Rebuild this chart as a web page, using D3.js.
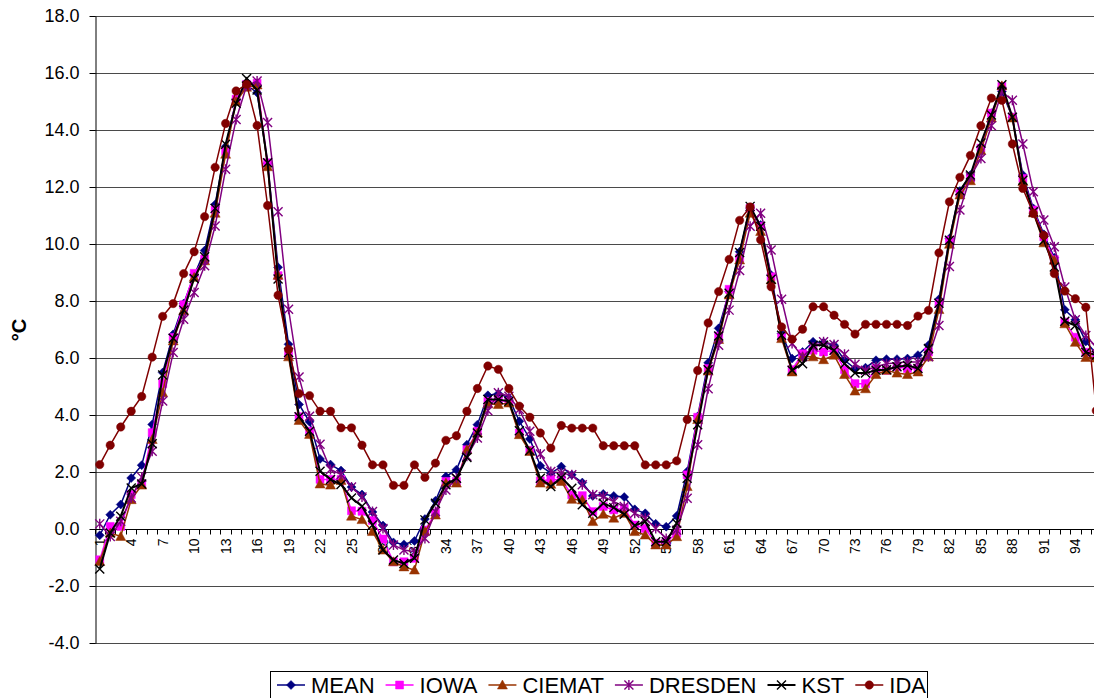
<!DOCTYPE html>
<html lang="en">
<head>
<meta charset="UTF-8">
<title>Temperature comparison</title>
<script src="https://d3js.org/d3.v7.min.js"></script>
<style>
    body { margin: 0; background: #fff; font-family: Arial, "Liberation Sans", sans-serif; }
    svg { display: block; }
    .ytick text { font-size: 18px; fill: #000; }
    .xlabel { font-size: 14px; fill: #000; }
    .legend text { font-size: 22px; fill: #000; }
</style>
</head>
<body>
<div id="chart"></div>
<script>
// categories (time step index) and tick labels
const categories = [1,2,3,4,5,6,7,8,9,10,11,12,13,14,15,16,17,18,19,20,21,22,23,24,25,26,27,28,29,30,31,32,
    33,34,35,36,37,38,39,40,41,42,43,44,45,46,47,48,49,50,51,52,53,54,55,56,57,58,59,60,61,62,63,64,
    65,66,67,68,69,70,71,72,73,74,75,76,77,78,79,80,81,82,83,84,85,86,87,88,89,90,91,92,93,94,95,96];
const xTickLabels = [1,4,7,10,13,16,19,22,25,28,31,34,37,40,43,46,49,52,55,58,61,64,67,70,73,76,79,82,85,88,91,94];
const yTicks = [-4,-2,0,2,4,6,8,10,12,14,16,18];

// series values, °C
const mean = [-0.22,0.5,0.86,1.79,2.24,3.67,5.49,6.83,7.91,8.89,9.77,11.39,13.42,15.05,15.58,15.31,12.83,9.18,6.48,4.37,
    3.76,2.46,2.26,2.05,1.47,1.21,0.6,0.12,-0.47,-0.54,-0.42,0.35,0.99,1.84,2.08,2.96,3.66,4.69,4.75,4.6,
    3.78,3.16,2.22,1.96,2.19,1.9,1.63,1.16,1.23,1.16,1.12,0.69,0.55,0.18,0.08,0.46,2.02,3.95,5.83,7.04,
    8.33,9.73,11.26,10.67,8.91,6.86,5.98,6.21,6.57,6.54,6.45,5.92,5.63,5.66,5.92,5.96,5.96,5.98,6.1,6.45,
    8.06,10.19,11.86,12.42,13.39,14.59,15.35,14.45,12.42,11.25,10.34,9.52,7.69,7.34,6.58,6.14];
const iowa = [-1.08,0.09,0.09,1.21,1.58,3.38,5.1,6.72,7.87,8.97,9.47,11.2,13.25,15.08,15.6,15.64,12.85,8.89,6.13,3.94,
    3.43,1.74,1.74,1.74,0.64,0.62,0.3,-0.35,-1.15,-1.15,-1.03,-0.04,0.55,1.67,1.67,2.78,3.43,4.48,4.51,4.48,
    3.37,2.76,1.69,1.73,1.73,1.2,1.17,0.61,0.79,0.67,0.73,0.14,0.02,-0.5,-0.45,-0.15,1.9,3.92,5.63,6.77,
    8.41,9.5,11.26,10.62,8.85,6.72,5.59,6.15,6.27,6.21,6.27,5.59,5.1,5.1,5.63,5.57,5.69,5.63,5.63,6.21,
    7.92,10.13,11.77,12.3,13.36,14.59,15.53,14.45,12.3,11.19,10.25,9.45,7.26,6.73,6.2,6.14];
const ciemat = [-1.14,-0.14,-0.26,1.03,1.54,3.14,4.78,6.6,7.66,8.83,9.41,11.08,13.15,15.0,15.5,15.58,12.71,8.9,6.04,3.81,
    3.32,1.58,1.54,1.7,0.45,0.33,-0.09,-0.74,-1.15,-1.33,-1.44,-0.09,0.49,1.61,1.61,2.78,3.37,4.39,4.37,4.42,
    3.31,2.72,1.61,1.57,1.67,1.04,1.02,0.26,0.52,0.38,0.55,-0.09,-0.21,-0.56,-0.56,-0.27,1.49,3.84,5.54,6.65,
    8.21,9.44,11.08,10.44,8.74,6.68,5.51,6.04,6.04,5.94,6.1,5.42,4.84,4.92,5.42,5.57,5.47,5.42,5.51,6.04,
    7.7,9.99,11.72,12.22,13.28,14.42,15.55,14.42,12.19,11.09,10.04,9.43,7.2,6.55,6.02,6.0];
const dresden = [0.18,-0.26,0.27,1.09,1.82,2.73,4.49,6.19,7.36,8.3,9.24,10.63,12.62,14.37,15.55,15.72,14.26,11.13,7.71,5.33,
    3.96,2.97,2.09,1.91,1.47,1.12,0.61,0.02,-0.56,-0.74,-0.8,-0.33,0.61,1.37,1.78,2.55,3.19,4.15,4.78,4.66,
    4.19,3.43,2.63,2.02,1.96,1.9,1.55,1.2,1.14,0.96,0.79,0.55,0.38,0.02,-0.33,-0.04,1.08,2.96,4.92,6.45,
    7.68,9.07,10.62,11.08,9.79,8.06,6.51,6.04,6.39,6.57,6.47,6.13,5.78,5.57,5.69,5.8,5.83,5.86,5.86,6.04,
    7.14,9.21,11.19,12.36,13.0,14.15,15.35,15.04,13.51,11.83,10.84,9.9,8.49,7.34,6.79,6.38];
const kst = [-1.4,-0.14,0.45,1.44,1.58,2.99,5.4,6.69,7.68,8.79,9.55,11.25,13.5,14.94,15.81,15.4,12.85,8.77,6.19,3.94,
    3.43,2.03,1.74,1.56,1.09,0.8,0.14,-0.74,-1.09,-1.21,-1.03,0.32,0.9,1.55,1.78,2.51,3.37,4.54,4.54,4.48,
    3.45,2.75,1.78,1.49,1.81,1.43,0.85,0.55,0.9,0.75,0.52,0.12,0.26,-0.45,-0.45,0.2,1.78,3.66,5.59,6.77,
    8.27,9.7,11.32,10.62,8.76,6.8,5.57,5.8,6.45,6.45,6.27,5.8,5.47,5.47,5.57,5.59,5.69,5.74,5.63,6.33,
    7.92,10.13,11.87,12.42,13.54,14.53,15.59,14.45,12.24,11.13,10.13,9.19,7.29,7.14,6.2,6.1];
const ida = [2.26,2.94,3.58,4.13,4.65,6.03,7.46,7.91,8.96,9.73,10.96,12.69,14.23,15.37,15.6,14.16,11.35,8.2,6.3,4.75,
    4.68,4.13,4.13,3.55,3.55,2.94,2.25,2.25,1.53,1.53,2.25,1.81,2.31,3.11,3.27,4.13,4.93,5.72,5.6,4.93,
    4.31,3.92,3.37,2.84,3.63,3.54,3.54,3.54,2.92,2.92,2.92,2.92,2.25,2.25,2.25,2.39,3.84,5.56,7.23,8.33,
    9.46,10.83,11.3,10.15,8.5,7.09,6.66,7.01,7.8,7.8,7.5,7.18,6.84,7.18,7.18,7.18,7.18,7.14,7.47,7.67,
    9.69,11.48,12.34,13.11,14.15,15.12,15.04,13.51,11.95,11.07,10.3,8.96,8.35,8.08,7.78,4.15];

const series = [
    { name: "MEAN", values: mean, color: "#000080", marker: "diamond", width: 1.5 },
    { name: "IOWA", values: iowa, color: "#FF00FF", marker: "square", width: 1.5 },
    { name: "CIEMAT", values: ciemat, color: "#993300", marker: "triangle", width: 1.5 },
    { name: "DRESDEN", values: dresden, color: "#800080", marker: "star", width: 1.5 },
    { name: "KST", values: kst, color: "#000000", marker: "x", width: 2 },
    { name: "IDA", values: ida, color: "#800000", marker: "circle", width: 1.5 }
];

const width = 1094, height = 698;
const plot = { left: 94.5, top: 16, bottom: 643 };

const svg = d3.select("#chart").append("svg")
    .attr("width", width)
    .attr("height", height);

const x = d3.scaleBand()
    .domain(categories)
    .range([plot.left, plot.left + categories.length * 10.49])
    .padding(0);
const cx = d => x(d) + x.bandwidth() / 2;

const y = d3.scaleLinear()
    .domain([-4, 18])
    .range([plot.bottom, plot.top]);

// horizontal gridlines
svg.append("g")
    .selectAll("line")
    .data(yTicks)
    .enter().append("line")
    .attr("x1", plot.left)
    .attr("x2", width)
    .attr("y1", d => Math.round(y(d)) + 0.5)
    .attr("y2", d => Math.round(y(d)) + 0.5)
    .attr("stroke", "#4a4a4a")
    .attr("stroke-width", 1);

// Y axis
const yAxis = svg.append("g")
    .attr("class", "ytick")
    .attr("transform", `translate(${Math.round(plot.left) + 0.5},0)`)
    .call(d3.axisLeft(y).tickValues(yTicks).tickSize(6).tickSizeOuter(0).tickPadding(10)
        .tickFormat(d => d.toFixed(1)));
yAxis.select(".domain").attr("stroke", "#000");
yAxis.selectAll(".tick line").attr("stroke", "#000");
yAxis.selectAll("text").attr("font-family", "Arial, 'Liberation Sans', sans-serif");

// Y title
svg.append("text")
    .attr("transform", "translate(26,330) rotate(-90)")
    .attr("text-anchor", "middle")
    .attr("font-size", "20px")
    .attr("font-weight", "bold")
    .text("°C");

// category axis at 0
const y0 = Math.round(y(0)) + 0.5;
svg.append("line")
    .attr("x1", plot.left).attr("x2", width)
    .attr("y1", y0).attr("y2", y0)
    .attr("stroke", "#000");
svg.append("g")
    .selectAll("line")
    .data(categories)
    .enter().append("line")
    .attr("x1", d => Math.round(x(d)) + 0.5)
    .attr("x2", d => Math.round(x(d)) + 0.5)
    .attr("y1", y0)
    .attr("y2", y0 + 5)
    .attr("stroke", "#000");
svg.append("g")
    .selectAll("text")
    .data(xTickLabels)
    .enter().append("text")
    .attr("class", "xlabel")
    .attr("transform", d => `translate(${cx(d) + 5},${y0 + 9}) rotate(-90)`)
    .attr("text-anchor", "end")
    .text(d => d);

// marker drawing
function markerPath(type) {
    switch (type) {
        case "diamond": return "M0,-4.5L4.5,0L0,4.5L-4.5,0Z";
        case "square": return "M-4,-4H4V4H-4Z";
        case "triangle": return "M0,-5L5,4H-5Z";
        case "circle": return d3.symbol(d3.symbolCircle, 55)();
        case "x": return "M-4.5,-4.5L4.5,4.5M-4.5,4.5L4.5,-4.5";
        case "star": return "M-4.5,-4.5L4.5,4.5M-4.5,4.5L4.5,-4.5M0,-5V5";
    }
}
function drawMarker(g, s, px, py) {
    const open = s.marker === "x" || s.marker === "star";
    g.append("path")
        .attr("d", markerPath(s.marker))
        .attr("transform", `translate(${px},${py})`)
        .attr("fill", open ? "none" : s.color)
        .attr("stroke", s.color)
        .attr("stroke-width", open ? 1.4 : 0.5);
}

const line = d3.line()
    .x((d, i) => cx(categories[i]))
    .y(d => y(d));

series.forEach(s => {
    const g = svg.append("g");
    g.append("path")
        .datum(s.values)
        .attr("fill", "none")
        .attr("stroke", s.color)
        .attr("stroke-width", s.width)
        .attr("d", line);
    s.values.forEach((v, i) => drawMarker(g, s, cx(categories[i]), y(v)));
});

// legend
const legend = svg.append("g").attr("class", "legend");
legend.append("rect")
    .attr("x", 270.5).attr("y", 671.5)
    .attr("width", 657).attr("height", 40)
    .attr("fill", "#fff").attr("stroke", "#000");
let lx = 277;
const ly = 685;
series.forEach(s => {
    const g = legend.append("g");
    g.append("line")
        .attr("x1", lx).attr("x2", lx + 28)
        .attr("y1", ly).attr("y2", ly)
        .attr("stroke", s.color).attr("stroke-width", s.width);
    drawMarker(g, s, lx + 14, ly);
    const t = g.append("text")
        .attr("x", lx + 34).attr("y", ly + 8)
        .text(s.name);
    lx += 34 + t.node().getComputedTextLength() + 11;
});
</script>
</body>
</html>
